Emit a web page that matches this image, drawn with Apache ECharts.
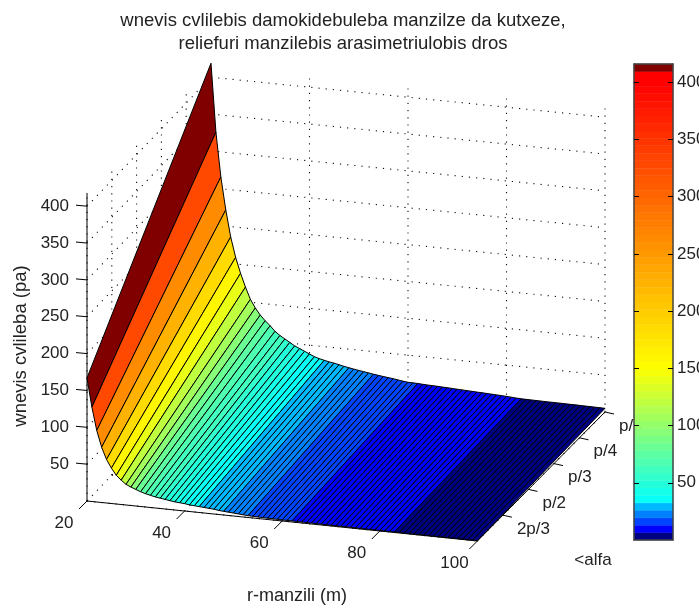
<!DOCTYPE html>
<html>
<head>
<meta charset="utf-8">
<style>html,body{margin:0;padding:0;background:#fff;overflow:hidden}#c{width:699px;height:608px}</style>
<script src="https://cdn.jsdelivr.net/npm/echarts@6/dist/echarts.min.js"></script>
</head>
<body>
<div id="c"></div>
<script>
// ---- data ----
const rValues = [20,21,22,23,24,25,26,27,28,29,30,31,32,33,34,35,36,37,38,39,40,41,42,43,44,45,46,47,48,49,50,51,52,53,54,55,56,57,58,59,60,61,62,63,64,65,66,67,68,69,70,71,72,73,74,75,76,77,78,79,80,81,82,83,84,85,86,87,88,89,90,91,92,93,94,95,96,97,98,99,100];
// pressure change along the far edge of the surface (largest angle tick side)
const zBack = [419,326,266,222,186,159,138,120,104,93,84,77,71,64,59,55,51,47,44,41,38,35,33,31.5,30,29,27.5,26,24.8,23.6,22.5,21.5,20.5,19.4,18.5,17.6,16.8,16,15,14,13.2,13.1,12.9,12.5,12.2,12,11.8,11.5,11.2,10.9,10.6,10.3,10,9.7,9.4,9.2,8.9,8.6,8.3,8,7.6,7.2,6.7,6.4,6.3,6.2,6.1,6,5.9,5.9,5.8,5.8,5.7,5.6,5.6,5.5,5.4,5.3,5.2,5.1,5];
// pressure change along the near edge of the surface
const zFront = [167,128,97,75,59,48,39,33,28,25,22.5,20,18,16.5,15,14,13,12,11,10.5,10,9,8.5,8,7.5,7,6.5,5.5,5,4.5,4,3.5,3,2.5,2.3,2,1.9,1.8,1.7,1.6,1.5,1.5,1.4,1.4,1.3,1.3,1.2,1.2,1.1,1.1,1,1,1,0.9,0.9,0.9,0.8,0.8,0.8,0.8,0.7,0.7,0.7,0.7,0.7,0.6,0.6,0.6,0.6,0.6,0.6,0.5,0.5,0.5,0.5,0.5,0.5,0.5,0.4,0.4,0.4];
const rTicks = [20,40,60,80,100];
const zTicks = [50,100,150,200,250,300,350,400];
const alphaPositions = [0,1,2,3,4,5];
const alphaLabels = ['','2p/3','p/2','p/3','p/4','p/6'];
const zTop = 418;
const colorMax = 416;
const titleText = 'wnevis cvlilebis damokidebuleba manzilze da kutxeze,\nreliefuri manzilebis arasimetriulobis dros';
const xName = 'r-manzili (m)';
const zName = 'wnevis cvlileba (pa)';
const alphaName = '<alfa';
// colormap
const lowBands = ['#000082','#0000ff','#0044ff','#0080ff','#00b8ff'];
const stopValues = [32,150,400];
const stopColors = [[0,255,255],[255,255,0],[255,0,0]];
const topBand = '#800000';
const levelCount = 64;

// ---- view ----
const FONT = '"Liberation Sans", Arial, sans-serif';
const INK = '#222';
function project(r, a, z) {
  const d = r - 20;
  return [87 + a * 24.8 + d * (4.88 + 0.009 * a), 501 + d * 0.5 - a * 25.8 - z * 0.737];
}
const levelStep = colorMax / levelCount;
function levelColor(level) {
  if (level >= levelCount - 1) return topBand;
  if (level < lowBands.length) return lowBands[level];
  const v = (level + 0.5) * levelStep;
  let i = 0;
  while (i < stopValues.length - 2 && v > stopValues[i + 1]) i++;
  const t = Math.min(1, Math.max(0, (v - stopValues[i]) / (stopValues[i + 1] - stopValues[i])));
  const c = stopColors[i].map((s, k) => Math.round(s + (stopColors[i + 1][k] - s) * t));
  return 'rgb(' + c.join(',') + ')';
}
function valueColor(v) { return levelColor(Math.floor(v / levelStep)); }

// ---- rows for the library ----
const aFront = alphaPositions[0], aBack = alphaPositions[alphaPositions.length - 1];
const rMin = rValues[0], rMax = rValues[rValues.length - 1];
const gridRows = [];
rTicks.forEach(r => {
  gridRows.push([r, aBack, 0, r, aBack, zTop]);
  gridRows.push([r, aFront, 0, r, aBack, 0]);
});
alphaPositions.forEach(a => {
  gridRows.push([rMin, a, 0, rMin, a, zTop]);
  gridRows.push([rMin, a, 0, rMax, a, 0]);
});
zTicks.forEach(z => {
  gridRows.push([rMin, aBack, z, rMax, aBack, z]);
  gridRows.push([rMin, aFront, z, rMin, aBack, z]);
});
const axisRows = [
  [rMin, aFront, 0, rMin, aFront, zTop],
  [rMin, aFront, 0, rMax, aFront, 0],
  [rMax, aFront, 0, rMax, aBack, 0]
];
const cellRows = rValues.slice(0, -1).map((r, i) => [r, rValues[i + 1], zBack[i], zBack[i + 1], zFront[i], zFront[i + 1]]);

function lineSeries(name, rows, style) {
  return {
    type: 'custom', name, xAxisIndex: 0, yAxisIndex: 0, silent: true, clip: false, z: 2, data: rows,
    renderItem(p, api) {
      const a = api.coord(project(api.value(0), api.value(1), api.value(2)));
      const b = api.coord(project(api.value(3), api.value(4), api.value(5)));
      return { type: 'line', shape: { x1: a[0], y1: a[1], x2: b[0], y2: b[1] }, style };
    }
  };
}
function pointSeries(name, rows, draw) {
  return {
    type: 'custom', name, xAxisIndex: 0, yAxisIndex: 0, silent: true, clip: false, z: 3, data: rows,
    renderItem(p, api) {
      const i = p.dataIndex;
      const c = api.coord(project(api.value(0), api.value(1), api.value(2)));
      return draw(c, i);
    }
  };
}
const tickStyle = { stroke: '#000', lineWidth: 1 };
const textStyle = { fill: INK, font: '17px ' + FONT };
const tick = (c, dx, dy) => ({ type: 'line', shape: { x1: c[0], y1: c[1], x2: c[0] + dx, y2: c[1] + dy }, style: tickStyle });
const label = (text, x, y, align) => ({ type: 'text', style: Object.assign({ text, x, y, textAlign: align, textVerticalAlign: 'middle' }, textStyle) });

const option = {
  animation: false,
  backgroundColor: '#fff',
  title: {
    text: titleText, left: 338, top: 4, textAlign: 'center',
    textStyle: { fontFamily: FONT, fontSize: 18.5, fontWeight: 'normal', color: INK, lineHeight: 23 }
  },
  grid: [
    { left: 0, top: 0, width: 699, height: 608, show: false, outerBoundsMode: 'none' },
    { left: 634, top: 64, width: 39, height: 476, show: false, outerBoundsMode: 'none' }
  ],
  xAxis: [
    { type: 'value', gridIndex: 0, min: 0, max: 699, show: false },
    { type: 'value', gridIndex: 1, min: 0, max: 1, position: 'bottom', splitLine: { show: false }, axisTick: { show: false }, axisLabel: { show: false }, axisLine: { onZero: false, lineStyle: { color: '#444', width: 1.5 } }, z: 20 },
    { type: 'value', gridIndex: 1, min: 0, max: 1, position: 'top', splitLine: { show: false }, axisTick: { show: false }, axisLabel: { show: false }, axisLine: { onZero: false, lineStyle: { color: '#444', width: 1.5 } }, z: 20 }
  ],
  yAxis: [
    { type: 'value', gridIndex: 0, min: 0, max: 608, inverse: true, show: false },
    { type: 'value', gridIndex: 1, min: 0, max: colorMax, position: 'right', splitLine: { show: false },
      axisLine: { onZero: false, lineStyle: { color: '#444', width: 1.5 } },
      axisTick: { inside: true, length: 5, customValues: zTicks, lineStyle: { color: '#000' } },
      axisLabel: { customValues: zTicks, margin: 4, fontFamily: FONT, fontSize: 17, color: INK }, z: 20 },
    { type: 'value', gridIndex: 1, min: 0, max: colorMax, position: 'left', splitLine: { show: false },
      axisLine: { onZero: false, lineStyle: { color: '#444', width: 1.5 } },
      axisTick: { inside: true, length: 5, customValues: zTicks, lineStyle: { color: '#000' } },
      axisLabel: { show: false }, z: 20 }
  ],
  series: [
    lineSeries('grid', gridRows, { stroke: '#111', lineWidth: 1.1, lineDash: [1.2, 6] }),
    lineSeries('axes', axisRows, { stroke: '#000', lineWidth: 1 }),
    pointSeries('zTicks', zTicks.map(z => [rMin, aFront, z]), (c, i) => ({ type: 'group', children: [tick(c, -11, -1), label(String(zTicks[i]), 69, c[1], 'right')] })),
    pointSeries('rTicks', rTicks.map(r => [r, aFront, 0]), (c, i) => ({ type: 'group', children: [tick(c, -8, 8), label(String(rTicks[i]), c[0] - 23, c[1] + 22, 'center')] })),
    pointSeries('alphaTicks', alphaPositions.map(a => [rMax, a, 0]), (c, i) => ({ type: 'group', children: (alphaLabels[i] ? [tick(c, 9, 2), label(alphaLabels[i], c[0] + 14, c[1] + 14, 'left')] : []) })),
    {
      type: 'custom', name: 'surface', xAxisIndex: 0, yAxisIndex: 0, silent: true, clip: false, z: 4, data: cellRows,
      renderItem(p, api) {
        const r0 = api.value(0), r1 = api.value(1);
        const pts = [
          project(r0, aFront, api.value(4)), project(r1, aFront, api.value(5)),
          project(r1, aBack, api.value(3)), project(r0, aBack, api.value(2))
        ].map(q => api.coord(q));
        return { type: 'polygon', shape: { points: pts }, style: { fill: valueColor(api.value(2)), stroke: '#000', lineWidth: 1 } };
      }
    },
    {
      type: 'custom', name: 'colorbar', xAxisIndex: 1, yAxisIndex: 1, silent: true, clip: false, z: 10,
      data: Array.from({ length: levelCount }, (_, i) => [i * levelStep, (i + 1) * levelStep, i]),
      renderItem(p, api) {
        const a = api.coord([0, api.value(0)]), b = api.coord([1, api.value(1)]);
        return { type: 'rect', shape: { x: a[0], y: b[1], width: b[0] - a[0], height: a[1] - b[1] }, style: { fill: levelColor(api.value(2)), stroke: levelColor(api.value(2)), lineWidth: 0.5 } };
      }
    }
  ],
  graphic: [
    { type: 'text', x: 297, y: 596, silent: true, z: 5, style: { text: xName, textAlign: 'center', textVerticalAlign: 'middle', fill: INK, font: '18px ' + FONT } },
    { type: 'text', x: 593, y: 560, silent: true, z: 5, style: { text: alphaName, textAlign: 'center', textVerticalAlign: 'middle', fill: INK, font: '17px ' + FONT } },
    { type: 'text', x: 21, y: 346, rotation: Math.PI / 2, silent: true, z: 5, style: { text: zName, textAlign: 'center', textVerticalAlign: 'middle', fill: INK, font: '18.5px ' + FONT } }
  ]
};
const chart = echarts.init(document.getElementById('c'), null, { width: 699, height: 608 });
chart.setOption(option);
</script>
</body>
</html>
